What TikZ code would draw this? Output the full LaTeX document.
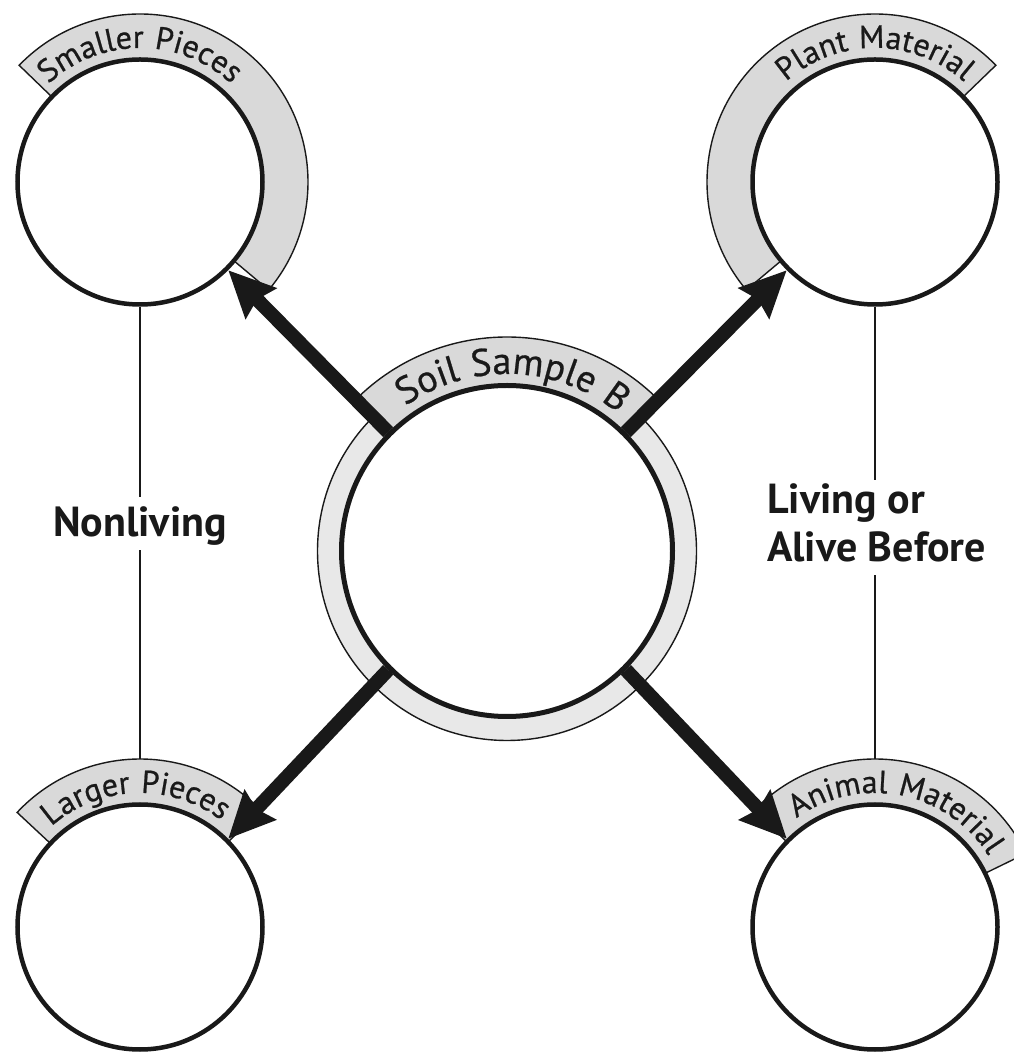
\documentclass[tikz,border=0pt]{standalone}
\usepackage{fontspec}
\newfontfamily\lblfont{PT Sans}
\newfontfamily\bandfont{PT Sans}[LetterSpace=5,FakeBold=0.7]
\usetikzlibrary{arrows.meta,decorations.text,calc}
\definecolor{bandgray}{gray}{0.85}
\definecolor{ringgray}{gray}{0.91}
\definecolor{ink}{gray}{0.1}
\tikzset{
  bubble/.style={circle, draw=ink, line width=4.5pt, fill=white, minimum size=245pt, inner sep=0pt},
  hub/.style={circle, draw=ink, line width=5pt, fill=white, minimum size=331pt, inner sep=0pt},
  bandstyle/.style={fill=bandgray, draw=ink, line width=1.4pt},
  ringstyle/.style={fill=ringgray, draw=ink, line width=1.4pt},
  flow/.style={draw=ink, line width=14pt, -{Stealth[length=46pt,width=42pt,inset=5pt]}},
  divider/.style={draw=ink, line width=1.6pt},
  sidelabel/.style={font=\lblfont\bfseries\fontsize{42}{48}\selectfont, text=ink, inner sep=0pt},
  bandtext/.style 2 args={decorate, decoration={text along path, text align=center,
      text={|\bandfont\fontsize{#1}{#1}\selectfont\color{ink}|#2}}}
}
\begin{document}
\begin{tikzpicture}[x=1pt,y=1pt]
\useasboundingbox (0,0) rectangle (1014,1053);
\clip (0,0) rectangle (1014,1053);
\coordinate (pTL) at (140,871);
\coordinate (pTR) at (875,871);
\coordinate (pBL) at (140,126);
\coordinate (pBR) at (875,126);
\coordinate (pC) at (507,502);

% label bands of the outer circles
\filldraw[bandstyle] ($(pTL)+(136:168)$) arc[start angle=136,end angle=-40,radius=168]
  -- ($(pTL)+(-40:122.5)$) arc[start angle=-40,end angle=136,radius=122.5] -- cycle;
\filldraw[bandstyle] ($(pTR)+(44:168)$) arc[start angle=44,end angle=220,radius=168]
  -- ($(pTR)+(220:122.5)$) arc[start angle=220,end angle=44,radius=122.5] -- cycle;
\filldraw[bandstyle] ($(pBL)+(137:168)$) arc[start angle=137,end angle=44,radius=168]
  -- ($(pBL)+(44:122.5)$) arc[start angle=44,end angle=137,radius=122.5] -- cycle;
\filldraw[bandstyle] ($(pBR)+(136:168)$) arc[start angle=136,end angle=26,radius=168]
  -- ($(pBR)+(26:122.5)$) arc[start angle=26,end angle=136,radius=122.5] -- cycle;

% central ring and band
\filldraw[ringstyle] (pC) circle[radius=189.5];
\filldraw[bandstyle] ($(pC)+(135:214)$) arc[start angle=135,end angle=45,radius=214]
  -- ($(pC)+(45:165.5)$) arc[start angle=45,end angle=135,radius=165.5] -- cycle;

% circles
\node[bubble] (tl) at (pTL) {};
\node[bubble] (tr) at (pTR) {};
\node[bubble] (bl) at (pBL) {};
\node[bubble] (br) at (pBR) {};
\node[hub] (c) at (pC) {};

% curved labels
\path[bandtext={32}{Smaller Pieces}] ($(pTL)+(160:134)$) arc[start angle=160,end angle=20,radius=134];
\path[bandtext={32}{Plant Material}] ($(pTR)+(160:134)$) arc[start angle=160,end angle=20,radius=134];
\path[bandtext={32}{Larger Pieces}] ($(pBL)+(162:134)$) arc[start angle=162,end angle=22,radius=134];
\path[bandtext={32}{Animal Material}] ($(pBR)+(149:134)$) arc[start angle=149,end angle=9,radius=134];
\path[bandtext={38}{Soil Sample B}] ($(pC)+(158:177)$) arc[start angle=158,end angle=18,radius=177];

% arrows
\draw[flow] (c.135) -- (tl.-45);
\draw[flow] (c.45) -- (tr.225);
\draw[flow] (c.225) -- (bl.45);
\draw[flow] (c.-45) -- (br.135);

% side labels and dividers
\coordinate (blTop) at ($(pBL)+(0,168)$);
\coordinate (brTop) at ($(pBR)+(0,168)$);
\node[sidelabel, anchor=base, text height=40pt, text depth=13pt] (nl) at (140,516) {Nonliving};
\draw[divider] (tl.south) -- (nl.north);
\draw[divider] (nl.south) -- (blTop);
\node[sidelabel, anchor=base west, text height=34pt, text depth=0pt] (lv1) at (767,539) {Living or};
\node[sidelabel, anchor=base west, text height=0pt, text depth=13pt] (lv2) at (767,491) {Alive Before};
\draw[divider] (tr.south) -- (tr.south |- lv1.north);
\draw[divider] (tr.south |- lv2.south) -- (brTop);
\end{tikzpicture}
\end{document}
